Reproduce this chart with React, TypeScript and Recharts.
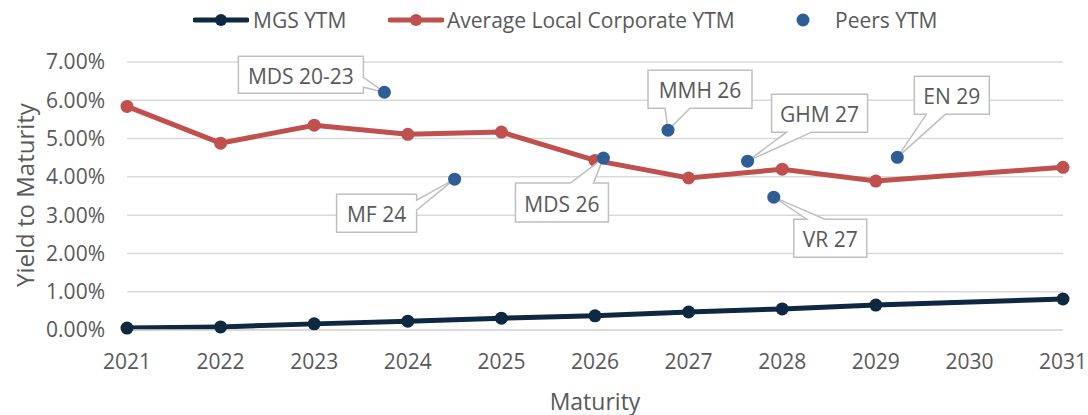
import React from "react";
import {
  ComposedChart,
  Line,
  Scatter,
  XAxis,
  YAxis,
  CartesianGrid,
} from "recharts";

// values in %
const years = [2021, 2022, 2023, 2024, 2025, 2026, 2027, 2028, 2029, 2031];
const mgsYtm = [0.05, 0.08, 0.16, 0.23, 0.31, 0.37, 0.47, 0.55, 0.65, 0.81];
const avgCorpYtm = [5.84, 4.88, 5.35, 5.11, 5.17, 4.43, 3.97, 4.2, 3.89, 4.25];

const peerNames = ["MDS 20-23", "MF 24", "MDS 26", "MMH 26", "GHM 27", "VR 27", "EN 29"];
const peerMaturity = [2023.75, 2024.5, 2026.09, 2026.78, 2027.63, 2027.91, 2029.23];
const peerYtm = [6.21, 3.94, 4.49, 5.22, 4.41, 3.47, 4.51];

const xTicks = [2021, 2022, 2023, 2024, 2025, 2026, 2027, 2028, 2029, 2030, 2031];
const yTicks = [0, 1, 2, 3, 4, 5, 6, 7];

const NAVY = "#0E2841";
const RED = "#C0504D";
const BLUE = "#2F5D95";
const TEXT = "#595959";
const FONT = "'Open Sans', sans-serif";

const mgsData = years.map((x, i) => ({ x, y: mgsYtm[i] }));
const corpData = years.map((x, i) => ({ x, y: avgCorpYtm[i] }));
const peerData = peerNames.map((name, i) => ({ name, x: peerMaturity[i], y: peerYtm[i] }));

// callout box placement relative to the point (px)
const callouts: Record<string, { bx: number; by: number; w: number; h: number; side: string; a: number; b: number }> = {
  "MDS 20-23": { bx: -146, by: -36, w: 125, h: 37, side: "right", a: 21, b: 31 },
  "MF 24": { bx: -118, by: 15, w: 80, h: 38, side: "right", a: 6, b: 16 },
  "MDS 26": { bx: -88, by: 25, w: 93, h: 39, side: "top", a: 55, b: 78 },
  "MMH 26": { bx: -20, by: -60, w: 104, h: 38, side: "bottom", a: 17, b: 42 },
  "GHM 27": { bx: 24, by: -67, w: 96, h: 38, side: "bottom", a: 15, b: 40 },
  "VR 27": { bx: 20, by: 22, w: 73, h: 38, side: "top", a: 13, b: 31 },
  "EN 29": { bx: 17, by: -81, w: 75, h: 38, side: "bottom", a: 12, b: 31 },
};

function calloutPath(cx: number, cy: number, c: (typeof callouts)[string]) {
  const x0 = cx + c.bx;
  const y0 = cy + c.by;
  const x1 = x0 + c.w;
  const y1 = y0 + c.h;
  const p = `L${cx},${cy} `;
  let d = `M${x0},${y0} `;
  if (c.side === "top") d += `L${x0 + c.a},${y0} ${p}L${x0 + c.b},${y0} `;
  d += `L${x1},${y0} `;
  if (c.side === "right") d += `L${x1},${y0 + c.a} ${p}L${x1},${y0 + c.b} `;
  d += `L${x1},${y1} `;
  if (c.side === "bottom") d += `L${x0 + c.b},${y1} ${p}L${x0 + c.a},${y1} `;
  d += `L${x0},${y1} Z`;
  return d;
}

const PeerPoint = (props: any) => {
  const { cx, cy, payload } = props;
  const c = callouts[payload.name];
  return (
    <g>
      {c && (
        <>
          <path d={calloutPath(cx, cy, c)} fill="#fff" stroke="#BFBFBF" strokeWidth={1.5} />
          <text
            x={cx + c.bx + c.w / 2}
            y={cy + c.by + c.h / 2 + 1}
            textAnchor="middle"
            dominantBaseline="central"
            fontSize={21}
            fontFamily={FONT}
            fill={TEXT}
          >
            {payload.name}
          </text>
        </>
      )}
      <circle cx={cx} cy={cy} r={6.5} fill={BLUE} />
    </g>
  );
};

const LineIcon = ({ color }: { color: string }) => (
  <svg width={56} height={14} style={{ display: "block" }}>
    <line x1={2} y1={7} x2={54} y2={7} stroke={color} strokeWidth={5} strokeLinecap="round" />
    <circle cx={28} cy={7} r={6} fill={color} />
  </svg>
);

const legendItem = (left: number, child: React.ReactNode) => (
  <div style={{ position: "absolute", left, top: 8, height: 24, display: "flex", alignItems: "center" }}>
    {child}
  </div>
);

export default function App() {
  return (
    <div style={{ position: "relative", width: 1088, height: 415, fontFamily: FONT, color: TEXT }}>
      {/* drop the default body margin so the chart fills the window */}
      <style>{"body{margin:0}"}</style>

      {/* legend */}
      <div style={{ position: "absolute", top: 0, left: 0, width: 1088, height: 40, fontSize: 21, whiteSpace: "nowrap" }}>
        {legendItem(193, <LineIcon color={NAVY} />)}
        {legendItem(253, <span>MGS YTM</span>)}
        {legendItem(388, <LineIcon color={RED} />)}
        {legendItem(447, <span>Average Local Corporate YTM</span>)}
        {legendItem(
          796,
          <svg width={14} height={14} style={{ display: "block" }}>
            <circle cx={7} cy={7} r={6.5} fill={BLUE} />
          </svg>
        )}
        {legendItem(835, <span>Peers YTM</span>)}
      </div>

      <ComposedChart width={1088} height={415} margin={{ top: 62, right: 25, bottom: 35, left: 37 }}>
        <CartesianGrid vertical={false} stroke="#D9D9D9" strokeWidth={1.5} />
        <XAxis
          dataKey="x"
          type="number"
          domain={[2021, 2031]}
          ticks={xTicks}
          height={50}
          tickLine={false}
          axisLine={{ stroke: "#D9D9D9", strokeWidth: 1.5 }}
          tickMargin={18}
          tick={{ fill: TEXT, fontSize: 21, fontFamily: FONT }}
        />
        <YAxis
          dataKey="y"
          type="number"
          domain={[0, 7]}
          ticks={yTicks}
          width={90}
          tickLine={false}
          axisLine={false}
          tickMargin={16}
          tickFormatter={(v: number) => `${v.toFixed(2)}%`}
          tick={{ fill: TEXT, fontSize: 21, fontFamily: FONT }}
        />
        <Line
          data={mgsData}
          dataKey="y"
          stroke={NAVY}
          strokeWidth={5}
          dot={{ r: 6.5, fill: NAVY, stroke: NAVY, strokeWidth: 0 }}
          activeDot={false}
          isAnimationActive={false}
        />
        <Line
          data={corpData}
          dataKey="y"
          stroke={RED}
          strokeWidth={5}
          dot={{ r: 6.5, fill: RED, stroke: RED, strokeWidth: 0 }}
          activeDot={false}
          isAnimationActive={false}
        />
        <Scatter data={peerData} dataKey="y" shape={PeerPoint} isAnimationActive={false} />
      </ComposedChart>

      {/* axis titles */}
      <div
        style={{
          position: "absolute",
          left: 25,
          top: 195,
          transform: "translate(-50%, -50%) rotate(-90deg)",
          fontSize: 24,
          lineHeight: "28px",
          whiteSpace: "nowrap",
        }}
      >
        Yield to Maturity
      </div>
      <div
        style={{
          position: "absolute",
          left: 595,
          top: 401,
          transform: "translate(-50%, -50%)",
          fontSize: 23,
          lineHeight: "28px",
          whiteSpace: "nowrap",
        }}
      >
        Maturity
      </div>
    </div>
  );
}
